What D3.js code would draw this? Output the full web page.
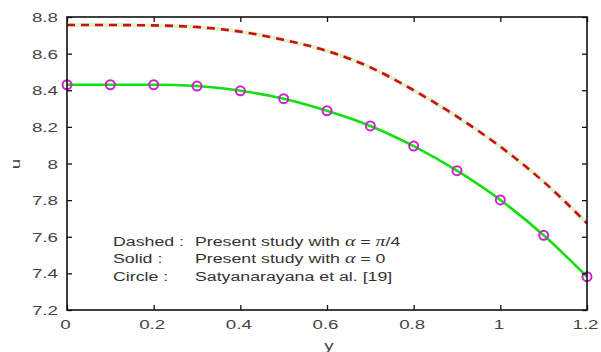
<!DOCTYPE html>
<html><head><meta charset="utf-8">
<script src="https://cdn.jsdelivr.net/npm/d3@7"></script>
<style>body{margin:0;background:#fff}svg{display:block}</style>
</head><body>
<svg id="c" width="601" height="352"></svg>
<script>
const xTicks = [0, 0.2, 0.4, 0.6, 0.8, 1, 1.2];
const yTicks = [7.2, 7.4, 7.6, 7.8, 8, 8.2, 8.4, 8.6, 8.8];
const xs = [0, 0.1, 0.2, 0.3, 0.4, 0.5, 0.6, 0.7, 0.8, 0.9, 1.0, 1.1, 1.2];
const dashedU = [8.756, 8.756, 8.754, 8.745, 8.72, 8.675, 8.615, 8.525, 8.40, 8.256, 8.092, 7.90, 7.673];
const solidU = [8.430, 8.430, 8.430, 8.423, 8.397, 8.354, 8.288, 8.205, 8.095, 7.961, 7.801, 7.608, 7.382];
const circleU = [8.430, 8.430, 8.430, 8.423, 8.397, 8.354, 8.288, 8.205, 8.095, 7.961, 7.801, 7.608, 7.382];
const notes = [
  ["Dashed : ", "Present study with ", "\u03b1", " = ", "\u03c0", "/4"],
  ["Solid :", "Present study with ", "\u03b1", " = 0"],
  ["Circle :", "Satyanarayana et al. [19]"]
];

const svg = d3.select("#c");
const L = 67, R = 587, T = 17, B = 310;
const x = d3.scaleLinear().domain([0, 1.2]).range([L, R]);
const y = d3.scaleLinear().domain([7.2, 8.8]).range([B, T]);
const sx = 1.5;

// lines
const line = d3.line().x(d => x(d[0])).y(d => y(d[1])).curve(d3.curveMonotoneX);
const dd = xs.map((v, i) => [v, dashedU[i]]);
const sd = xs.map((v, i) => [v, solidU[i]]);
svg.append("path").attr("d", line(dd)).attr("fill", "none").attr("stroke", "#e4f0cc").attr("stroke-width", 4);
svg.append("path").attr("d", line(dd)).attr("fill", "none").attr("stroke", "#cc1010").attr("stroke-width", 2.6).attr("stroke-dasharray", "8,6");
svg.append("path").attr("d", line(sd)).attr("fill", "none").attr("stroke", "#10e010").attr("stroke-width", 2.6);
svg.selectAll("circle.m").data(xs.map((v, i) => [v, circleU[i]])).enter().append("circle")
  .attr("cx", d => x(d[0])).attr("cy", d => y(d[1])).attr("r", 4.5)
  .attr("fill", "none").attr("stroke", "#d020d0").attr("stroke-width", 2);

// axes
function styleAxis(g) {
  g.select(".domain").remove();
  g.selectAll(".tick line").attr("stroke", "#111").attr("stroke-width", 1.3);
}
const ax = svg.append("g").attr("transform", `translate(0,${B})`)
  .call(d3.axisBottom(x).tickValues(xTicks).tickSizeInner(-5).tickSizeOuter(0).tickFormat(d3.format("~g")));
styleAxis(ax);
ax.selectAll("text").attr("y", 0).attr("dy", 0).attr("font-family", "Liberation Sans, Arial, sans-serif")
  .attr("font-size", 12.5).attr("fill", "#444")
  .attr("transform", `translate(-2,19) scale(${sx},1)`);
const axT = svg.append("g").attr("transform", `translate(0,${T})`)
  .call(d3.axisTop(x).tickValues(xTicks).tickSizeInner(-5).tickSizeOuter(0).tickFormat(""));
styleAxis(axT);
const ay = svg.append("g").attr("transform", `translate(${L},0)`)
  .call(d3.axisLeft(y).tickValues(yTicks).tickSizeInner(-5).tickSizeOuter(0).tickFormat(d3.format("~g")));
styleAxis(ay);
ay.selectAll("text").attr("x", 0).attr("dy", "0.36em").attr("font-family", "Liberation Sans, Arial, sans-serif")
  .attr("font-size", 12.5).attr("fill", "#444")
  .attr("transform", `translate(-9,0) scale(${sx},1)`);
const ayR = svg.append("g").attr("transform", `translate(${R},0)`)
  .call(d3.axisRight(y).tickValues(yTicks).tickSizeInner(-5).tickSizeOuter(0).tickFormat(""));
styleAxis(ayR);

svg.append("rect").attr("x", L).attr("y", T).attr("width", R - L).attr("height", B - T)
  .attr("fill", "none").attr("stroke", "#111").attr("stroke-width", 1.6);

// axis labels
svg.append("text").attr("transform", `translate(329,350) scale(${sx},1)`).attr("text-anchor", "middle")
  .attr("font-family", "Liberation Sans, Arial, sans-serif").attr("font-size", 12.5).attr("fill", "#444").text("y");
svg.append("text").attr("transform", `translate(20,164) rotate(-90) scale(${sx},1)`).attr("text-anchor", "middle")
  .attr("font-family", "Liberation Sans, Arial, sans-serif").attr("font-size", 12.5).attr("fill", "#444").text("u");

// notes
const nb = [246, 263, 281];
notes.forEach((parts, i) => {
  const g = svg.append("g").attr("transform", `translate(113,${nb[i]}) scale(1.42,1)`)
    .attr("font-family", "Liberation Sans, Arial, sans-serif").attr("font-size", 12.5).attr("fill", "#333");
  g.append("text").text(parts[0]);
  const t = g.append("text").attr("x", (195 - 113) / 1.42);
  parts.slice(1).forEach(p => {
    const greek = p === "\u03b1" || p === "\u03c0";
    t.append("tspan").text(p)
      .attr("font-style", greek ? "italic" : null)
      .attr("font-family", greek ? "Liberation Serif, serif" : null)
      .attr("font-size", greek ? 14 : null);
  });
});
</script>
</body></html>
